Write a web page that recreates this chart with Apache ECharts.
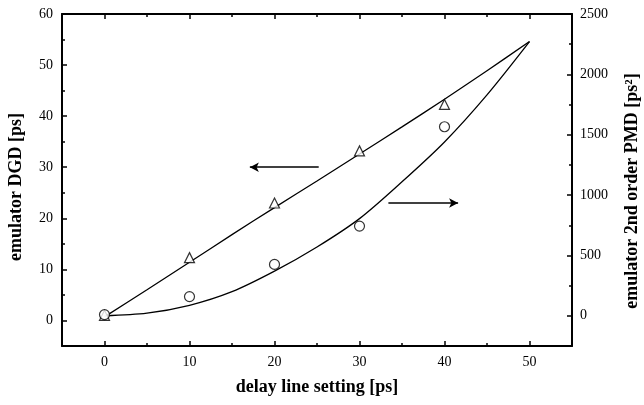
<!DOCTYPE html>
<html>
<head>
<meta charset="utf-8">
<script src="https://cdn.jsdelivr.net/npm/echarts@6/dist/echarts.min.js"></script>
<style>
  html, body { margin: 0; padding: 0; background: #fff; }
  #chart { width: 644px; height: 405px; }
</style>
</head>
<body>
<div id="chart"></div>
<script>
// delay line setting [ps]
var fitX = [0, 5, 10, 15, 20, 25, 30, 35, 40, 45, 50];
// DGD fit line (left axis, ps)
var dgdFit = [0.7, 6.0, 11.4, 16.8, 22.1, 27.3, 32.6, 37.9, 43.3, 48.9, 54.6];
// 2nd order PMD fit curve (right axis, ps^2)
var pmdFit = [0, 22, 87, 200, 370, 570, 805, 1110, 1440, 1830, 2271];

var measX = [0, 10, 20, 30, 40];
var dgdMeas = [1.0, 12.3, 23.0, 33.2, 42.3];   // triangles
var pmdMeas = [10, 159, 426, 743, 1566];       // circles

// arrows [x0, y0, x1, y1] in left-axis units
var arrowLeft = [25.2, 30, 17.1, 30];
var arrowRight = [33.4, 23, 41.6, 23];

var xMajor = [0, 10, 20, 30, 40, 50];
var xMinor = [-5, 5, 15, 25, 35, 45, 55];
var yLeftMajor = [0, 10, 20, 30, 40, 50, 60];
var yLeftMinor = [-5, 5, 15, 25, 35, 45, 55];
var yRightMajor = [0, 500, 1000, 1500, 2000, 2500];
var yRightMinor = [250, 750, 1250, 1750, 2250];

var font = 'Liberation Serif';
var black = '#000';

function zip(xs, ys) {
  return xs.map(function (x, i) { return [x, ys[i]]; });
}

// axis that only draws (minor) ticks on one side of the grid
function tickAxis(pos, values, len, extra) {
  var a = {
    type: 'value',
    position: pos,
    axisLine: { show: false, onZero: false },
    axisTick: { show: true, inside: true, length: len, customValues: values,
      lineStyle: { color: black, width: 1.5 } },
    axisLabel: { show: false },
    splitLine: { show: false }
  };
  return Object.assign(a, extra);
}

var chart = echarts.init(document.getElementById('chart'));

var xRange = { min: -5, max: 55 };
var yLRange = { min: -5, max: 60 };
var yRRange = { min: -250, max: 2500 };
var titleStyle = { fontFamily: font, fontWeight: 'bold', fontSize: 18, color: black };

chart.setOption({
  backgroundColor: '#fff',
  animation: false,
  grid: { left: 62, right: 72, top: 14, bottom: 59, outerBoundsMode: 'none', containLabel: false },
  xAxis: [
    Object.assign({
      type: 'value',
      position: 'bottom',
      name: 'delay line setting [ps]',
      nameLocation: 'middle',
      nameGap: 32,
      nameTextStyle: titleStyle,
      axisLine: { show: true, onZero: false, lineStyle: { color: black, width: 2 } },
      axisTick: { show: true, inside: true, length: 5, customValues: xMajor,
        lineStyle: { color: black, width: 1.5 } },
      axisLabel: { customValues: xMajor, margin: 9, fontFamily: font, fontSize: 14, color: black },
      splitLine: { show: false }
    }, xRange),
    tickAxis('bottom', xMinor, 3, xRange),
    Object.assign(tickAxis('top', xMajor, 5, xRange),
      { axisLine: { show: true, onZero: false, lineStyle: { color: black, width: 2 } } }),
    tickAxis('top', xMinor, 3, xRange)
  ],
  yAxis: [
    Object.assign({
      type: 'value',
      position: 'left',
      name: 'emulator DGD [ps]',
      nameLocation: 'middle',
      nameGap: 37,
      nameTextStyle: Object.assign({ padding: [0, 14, 0, 0] }, titleStyle),
      axisLine: { show: true, onZero: false, lineStyle: { color: black, width: 2 } },
      axisTick: { show: true, inside: true, length: 5, customValues: yLeftMajor,
        lineStyle: { color: black, width: 1.5 } },
      axisLabel: { customValues: yLeftMajor, margin: 9, fontFamily: font, fontSize: 14, color: black },
      splitLine: { show: false }
    }, yLRange),
    tickAxis('left', yLeftMinor, 3, yLRange),
    Object.assign({
      type: 'value',
      position: 'right',
      name: 'emulator 2nd order PMD [ps²]',
      nameLocation: 'middle',
      nameGap: 51,
      nameRotate: 90,
      nameTextStyle: Object.assign({ padding: [0, 22, 0, 0] }, titleStyle),
      axisLine: { show: true, onZero: false, lineStyle: { color: black, width: 2 } },
      axisTick: { show: true, inside: true, length: 5, customValues: yRightMajor,
        lineStyle: { color: black, width: 1.5 } },
      axisLabel: { customValues: yRightMajor, margin: 8, fontFamily: font, fontSize: 14, color: black,
        formatter: function (v) { return String(v); } },
      splitLine: { show: false }
    }, yRRange),
    tickAxis('right', yRightMinor, 3, yRRange)
  ],
  series: [
    {
      type: 'line',
      xAxisIndex: 0, yAxisIndex: 0,
      data: zip(fitX, dgdFit),
      smooth: 0.3,
      showSymbol: false,
      lineStyle: { color: black, width: 1.3 },
      markLine: {
        silent: true,
        symbol: ['none', 'arrow'],
        symbolSize: [7, 9],
        label: { show: false },
        lineStyle: { color: black, width: 1.5, type: 'solid' },
        data: [
          [{ coord: [arrowLeft[0], arrowLeft[1]] }, { coord: [arrowLeft[2], arrowLeft[3]] }],
          [{ coord: [arrowRight[0], arrowRight[1]] }, { coord: [arrowRight[2], arrowRight[3]] }]
        ]
      }
    },
    {
      type: 'line',
      xAxisIndex: 0, yAxisIndex: 2,
      data: zip(fitX, pmdFit),
      smooth: 0.3,
      showSymbol: false,
      lineStyle: { color: black, width: 1.3 }
    },
    {
      type: 'scatter',
      xAxisIndex: 0, yAxisIndex: 0,
      data: zip(measX, dgdMeas),
      symbol: 'triangle',
      symbolSize: 10,
      itemStyle: { color: '#fff', borderColor: black, borderWidth: 1.2 },
      z: 5
    },
    {
      type: 'scatter',
      xAxisIndex: 0, yAxisIndex: 2,
      data: zip(measX, pmdMeas),
      symbol: 'circle',
      symbolSize: 10,
      itemStyle: { color: '#fff', borderColor: black, borderWidth: 1.2 },
      z: 5
    }
  ]
});
</script>
</body>
</html>
